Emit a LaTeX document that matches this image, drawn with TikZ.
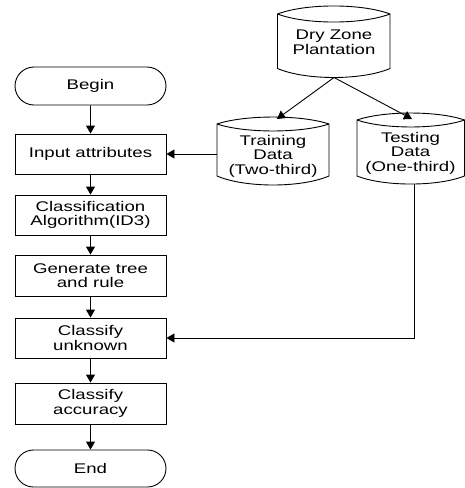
\documentclass[tikz,border=0pt]{standalone}
\usepackage{fontspec}
\setmainfont[FakeStretch=1.33]{Liberation Sans}
\usetikzlibrary{arrows.meta,shapes.misc}
\begin{document}
\begin{tikzpicture}[x=1pt,y=-1pt,
  line/.style={draw=black,line width=0.9pt},
  arr/.style={line,-{Triangle[length=8pt,width=9pt]}},
  txt/.style={font=\fontsize{14}{14.5}\selectfont,align=center,inner sep=0pt},
  proc/.style={txt,line,rectangle,minimum width=151pt,minimum height=40pt},
  term/.style={txt,line,rounded rectangle,minimum width=151pt,minimum height=38pt}]
\useasboundingbox (0,0) rectangle (465,488);
% flow chart column
\node[term] (begin) at (90.5,86) {Begin};
\node[proc] (input) at (90.5,154) {Input attributes};
\node[proc] (algo) at (90.5,215) {Classification\\Algorithm(ID3)};
\node[proc,minimum height=41pt] (gen) at (90.5,275.5) {Generate tree\\and rule};
\node[proc] (unk) at (90.5,338) {Classify\\unknown};
\node[proc,minimum height=41pt] (acc) at (90.5,403.5) {Classify\\accuracy};
\node[term,minimum height=37pt] (end) at (90.5,468.5) {End};
% data stores
\draw[line] (277.5,14) .. controls (305.6,3.3) and (361.9,3.3) .. (390,14) -- (390,68.5)
  .. controls (361.9,80.5) and (305.6,80.5) .. (277.5,68.5) -- cycle;
\draw[line] (277.5,14) .. controls (305.6,24.7) and (361.9,24.7) .. (390,14);
\node[txt] (dry) at (334,42) {Dry Zone\\Plantation};
\draw[line] (217,124) .. controls (245,114.7) and (301,114.7) .. (329,124) -- (329,176)
  .. controls (301,188) and (245,188) .. (217,176) -- cycle;
\draw[line] (217,124) .. controls (245,133.3) and (301,133.3) .. (329,124);
\node[txt] (train) at (273,156) {Training\\Data\\(Two-third)};
\draw[line] (357,120) .. controls (383.9,110.7) and (437.6,110.7) .. (464.5,120) -- (464.5,176)
  .. controls (437.6,186.7) and (383.9,186.7) .. (357,176) -- cycle;
\draw[line] (357,120) .. controls (383.9,129.3) and (437.6,129.3) .. (464.5,120);
\node[txt] (test) at (410.5,153) {Testing\\Data\\(One-third)};
% connector anchors
\coordinate (drybot) at (334,77.5);
\coordinate (traintop) at (277,119);
\coordinate (testtop) at (412,119);
\coordinate (trainleft) at (217,154);
\coordinate (testbot) at (414,184);
% connectors
\draw[arr] (drybot) -- (traintop);
\draw[arr] (drybot) -- (testtop);
\draw[arr] (trainleft) -- (input.east);
\draw[arr] (testbot) |- (unk.east);
\draw[arr] (begin) -- (input);
\draw[arr] (input) -- (algo);
\draw[arr] (algo) -- (gen);
\draw[arr] (gen) -- (unk);
\draw[arr] (unk) -- (acc);
\draw[arr] (acc) -- (end);
\end{tikzpicture}
\end{document}
